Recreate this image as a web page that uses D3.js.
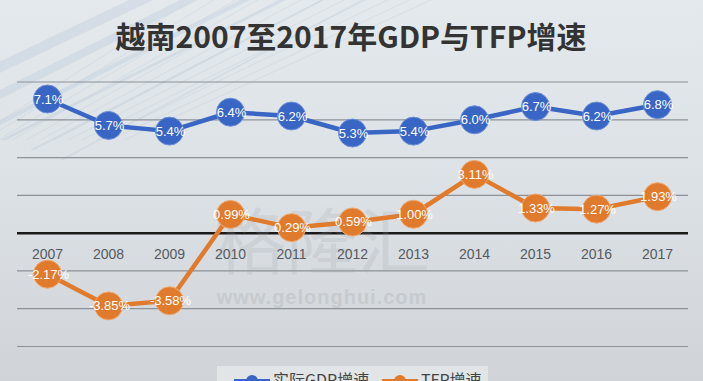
<!DOCTYPE html>
<html><head><meta charset="utf-8">
<script src="https://cdn.jsdelivr.net/npm/d3@7"></script>
<style>html,body{margin:0;padding:0;background:#dde1e5;}svg{display:block;}</style>
</head><body>
<svg id="chart" width="703" height="381"></svg>
<script>
const years = ["2007","2008","2009","2010","2011","2012","2013","2014","2015","2016","2017"];
const gdpGrowth = [7.1, 5.7, 5.4, 6.4, 6.2, 5.3, 5.4, 6.0, 6.7, 6.2, 6.8];
const gdpLabels = ["7.1%","5.7%","5.4%","6.4%","6.2%","5.3%","5.4%","6.0%","6.7%","6.2%","6.8%"];
const tfpGrowth = [-2.17, -3.85, -3.58, 0.99, 0.29, 0.59, 1.00, 3.11, 1.33, 1.27, 1.93];
const tfpLabels = ["-2.17%","-3.85%","-3.58%","0.99%","0.29%","0.59%","1.00%","3.11%","1.33%","1.27%","1.93%"];
const gridTicks = [-6, -4, -2, 2, 4, 6, 8];
const seriesNames = ["实际GDP增速", "TFP增速"];
const titleText = "越南2007至2017年GDP与TFP增速";

const svg = d3.select("#chart");
const W = 703, H = 381;
const defs = svg.append("defs");
const bg = defs.append("linearGradient").attr("id","bg").attr("x1",0).attr("y1",0).attr("x2",0).attr("y2",1);
bg.append("stop").attr("offset","0%").attr("stop-color","#e4e9ed");
bg.append("stop").attr("offset","45%").attr("stop-color","#dde2e6");
bg.append("stop").attr("offset","100%").attr("stop-color","#d0d4d8");
svg.append("rect").attr("width",W).attr("height",H).attr("fill","url(#bg)");

// decorative streaks top-left
const deco = svg.append("g").attr("opacity",0.5);
const streaks = [[-40,110,200,-10,18],[-20,130,260,-10,10],[0,140,300,-10,6],[-60,90,150,-10,24],[30,150,340,-10,4],[60,160,380,-10,3]];
streaks.forEach(s=>{
  deco.append("path")
    .attr("d",`M${s[0]},${s[1]} L${s[2]},${s[3]} L${s[2]+s[4]},${s[3]} L${s[0]+s[4]},${s[1]} Z`)
    .attr("fill","#a9bfd4").attr("opacity",0.5);
});
for(let i=0;i<12;i++){
  deco.append("line").attr("x1",-30+i*14).attr("y1",140).attr("x2",200+i*22).attr("y2",-5)
    .attr("stroke","#b8c9d9").attr("stroke-width",0.8).attr("opacity",0.7);
}

const x = d3.scaleBand().domain(years).range([17, 688]);
const y = d3.scaleLinear().domain([-6, 8]).range([346.5, 82]);
const cx = d => x(d) + x.bandwidth()/2;

// gridlines
svg.append("g").selectAll("line").data(gridTicks).join("line")
  .attr("x1",17).attr("x2",688).attr("y1",d=>y(d)).attr("y2",d=>y(d))
  .attr("stroke","#8c9298").attr("stroke-width",1.2);
svg.append("line").attr("x1",17).attr("x2",688).attr("y1",y(0)).attr("y2",y(0))
  .attr("stroke","#1a1a1a").attr("stroke-width",2.5);

// watermark
svg.append("text").attr("x",322).attr("y",268).attr("text-anchor","middle")
  .attr("font-family","Noto Sans CJK SC").attr("font-size",72).attr("fill","#9aa0a6").attr("opacity",0.18)
  .text("格隆汇");
svg.append("text").attr("x",322).attr("y",304).attr("text-anchor","middle")
  .attr("font-family","Liberation Sans, Arial").attr("font-weight","bold").attr("font-size",20).attr("letter-spacing",1)
  .attr("fill","#9aa0a6").attr("opacity",0.25).text("www.gelonghui.com");

// year labels (x axis)
const xAxis = d3.axisBottom(x).tickSize(0).tickPadding(0);
const ax = svg.append("g").attr("transform",`translate(0,${y(0)+16})`).call(xAxis);
ax.select(".domain").remove();
ax.selectAll("text").attr("font-family","Liberation Sans, Arial").attr("font-size",14).attr("fill","#555a60");

// title
svg.append("text").attr("x",351).attr("y",48).attr("text-anchor","middle")
  .attr("font-family","Noto Sans CJK SC").attr("font-weight","bold").attr("font-size",30)
  .attr("fill","#333").text(titleText);

function series(vals, labels, color, edge){
  const line = d3.line().x((d,i)=>cx(years[i])).y(d=>y(d));
  svg.append("path").datum(vals).attr("d",line).attr("fill","none")
    .attr("stroke",color).attr("stroke-width",4.5).attr("stroke-linejoin","round");
  const g = svg.append("g");
  g.selectAll("circle").data(vals).join("circle")
    .attr("cx",(d,i)=>cx(years[i])).attr("cy",d=>y(d)).attr("r",14)
    .attr("fill",color).attr("stroke",edge).attr("stroke-width",1);
  g.selectAll("text").data(vals).join("text")
    .attr("x",(d,i)=>cx(years[i])+1).attr("y",d=>y(d)+4.5).attr("text-anchor","middle")
    .attr("font-family","Liberation Sans, Arial").attr("font-size",13).attr("fill","#fff")
    .text((d,i)=>labels[i]);
}
series(gdpGrowth, gdpLabels, "#3965c4", "#6d8fd6");
series(tfpGrowth, tfpLabels, "#e07a2c", "#f0a86e");

// legend
const lg = svg.append("g");
lg.append("rect").attr("x",217).attr("y",366).attr("width",271).attr("height",20).attr("fill","#e6e8ea").attr("opacity",0.8);
const legendItems = [{name:seriesNames[0], color:"#3965c4", x0:234},{name:seriesNames[1], color:"#e07a2c", x0:382}];
legendItems.forEach(it=>{
  lg.append("line").attr("x1",it.x0).attr("x2",it.x0+36).attr("y1",381).attr("y2",381).attr("stroke",it.color).attr("stroke-width",4);
  lg.append("circle").attr("cx",it.x0+18).attr("cy",381).attr("r",6).attr("fill",it.color);
  lg.append("text").attr("x",it.x0+39).attr("y",386).attr("font-family","Noto Sans CJK SC").attr("font-size",16)
    .attr("fill","#444").text(it.name);
});
</script>
</body></html>
